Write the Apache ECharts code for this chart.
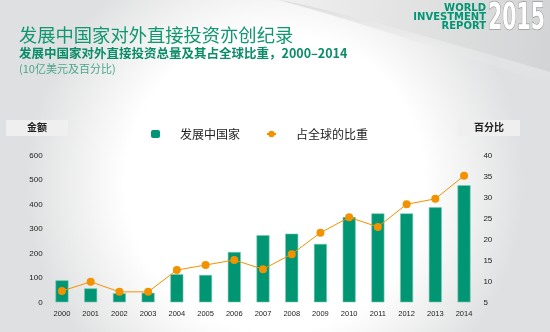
<!DOCTYPE html>
<html><head><meta charset="utf-8">
<script src="https://cdn.jsdelivr.net/npm/echarts@6/dist/echarts.min.js"></script>
<style>html,body{margin:0;padding:0;}#c{width:550px;height:332px;}</style>
</head><body><div id="c"></div>
<script>
var categories = ['2000','2001','2002','2003','2004','2005','2006','2007','2008','2009','2010','2011','2012','2013','2014'];
var fdiValues = [90, 57, 37, 39, 115, 112, 206, 275, 281, 239, 349, 364, 364, 389, 479];
var shareValues = [7.7, 9.9, 7.5, 7.5, 12.7, 13.9, 15.1, 12.9, 16.5, 21.6, 25.3, 23.0, 28.4, 29.7, 35.2];
var leftTicks = [0, 100, 200, 300, 400, 500, 600];
var rightTicks = [5, 10, 15, 20, 25, 30, 35, 40];

var green = '#009673';
var orange = '#f39200';

// decorative swoosh curve in the top-right background
function quad(p0, p1, p2, n) {
  var pts = [];
  for (var i = 0; i <= n; i++) {
    var t = i / n, u = 1 - t;
    pts.push([u*u*p0[0] + 2*u*t*p1[0] + t*t*p2[0], u*u*p0[1] + 2*u*t*p1[1] + t*t*p2[1]]);
  }
  return pts;
}
var curveTop = quad([278, 0], [320, 5], [550, 72], 40);
var swooshPts = curveTop.concat([[550, 0]]);
var shadePts = curveTop.concat(quad([550, 84], [320, 10], [278, 0], 40));

var chart = echarts.init(document.getElementById('c'));
chart.setOption({
  backgroundColor: {
    type: 'radial', x: 0.5, y: 0.55, r: 0.75,
    colorStops: [{offset: 0, color: '#ffffff'}, {offset: 0.6, color: '#ffffff'}, {offset: 1, color: '#dfe0e1'}]
  },
  graphic: [
    {type: 'polygon', shape: {points: swooshPts}, z: -1,
     style: {fill: {type: 'linear', x: 0, y: 0, x2: 1, y2: 0.3, colorStops: [{offset: 0, color: '#f0f0f0'}, {offset: 1, color: '#d3d4d5'}]}}},
    {type: 'polygon', shape: {points: shadePts}, z: -1,
     style: {fill: {type: 'linear', x: 0, y: 0, x2: 0, y2: 1, colorStops: [{offset: 0, color: 'rgba(200,200,200,0.6)'}, {offset: 1, color: 'rgba(255,255,255,0)'}]}}},
    {type: 'text', x: 19, y: 26, style: {text: '发展中国家对外直接投资亦创纪录', fill: '#11976f', font: '18.3px "Noto Sans CJK SC"'}},
    {type: 'text', x: 19, y: 47, style: {text: '发展中国家对外直接投资总量及其占全球比重，2000–2014', fill: '#0b8c68', font: 'bold 12.5px "Noto Sans CJK SC"'}},
    {type: 'text', x: 19, y: 63, style: {text: '(10亿美元及百分比)', fill: '#4aa68a', font: '11px "Noto Sans CJK SC"'}},
    {type: 'text', x: 486, y: 4, style: {text: 'WORLD\nINVESTMENT\nREPORT', fill: green, font: '900 10px "DejaVu Sans"', align: 'right', lineHeight: 9}},
    {type: 'text', x: 488, y: 0, scaleX: 0.54, style: {text: '2015', fill: '#ffffff', stroke: '#9a9a9a', lineWidth: 1.5, font: 'bold 38px "DejaVu Sans"'}},
    {type: 'rect', x: 6, y: 120, shape: {width: 62, height: 16}, style: {fill: '#efefef'}},
    {type: 'text', x: 37, y: 122, style: {text: '金额', fill: '#222', font: 'bold 10px "Noto Sans CJK SC"', align: 'center'}},
    {type: 'rect', x: 458, y: 120, shape: {width: 62, height: 16}, style: {fill: '#efefef'}},
    {type: 'text', x: 489, y: 122, style: {text: '百分比', fill: '#222', font: 'bold 10px "Noto Sans CJK SC"', align: 'center'}}
  ],
  legend: {
    top: 123, left: 146, itemGap: 26, itemWidth: 9, itemHeight: 8,
    textStyle: {fontSize: 12, color: '#222', fontFamily: 'Noto Sans CJK SC', padding: [0, 0, 0, 15]},
    data: [
      {name: '发展中国家', icon: 'roundRect', itemStyle: {color: green, borderWidth: 0}},
      {name: '占全球的比重', itemStyle: {color: orange}}
    ]
  },
  grid: {left: 47.6, right: 71.6, top: 155.7, bottom: 29.7},
  xAxis: {
    type: 'category', data: categories,
    axisLine: {show: false}, axisTick: {show: false},
    axisLabel: {color: '#222', fontSize: 7.5, margin: 8, fontFamily: 'Liberation Sans'}
  },
  yAxis: [
    {type: 'value', min: leftTicks[0], max: leftTicks[leftTicks.length - 1], interval: 100,
     position: 'left', offset: 0,
     axisLabel: {color: '#222', fontSize: 8, margin: 5, fontFamily: 'Liberation Sans'},
     splitLine: {show: false}, axisLine: {show: false}, axisTick: {show: false}},
    {type: 'value', min: rightTicks[0], max: rightTicks[rightTicks.length - 1], interval: 5,
     position: 'right', offset: 0,
     axisLabel: {color: '#222', fontSize: 8, margin: 5, fontFamily: 'Liberation Sans'},
     splitLine: {show: false}, axisLine: {show: false}, axisTick: {show: false}}
  ],
  series: [
    {name: '发展中国家', type: 'bar', data: fdiValues, barWidth: 13,
     itemStyle: {color: green, borderColor: '#7cc8b2', borderWidth: 0.6}},
    {name: '占全球的比重', type: 'line', yAxisIndex: 1, data: shareValues,
     symbol: 'circle', symbolSize: 8, lineStyle: {color: orange, width: 1},
     itemStyle: {color: orange}}
  ]
});
</script></body></html>
